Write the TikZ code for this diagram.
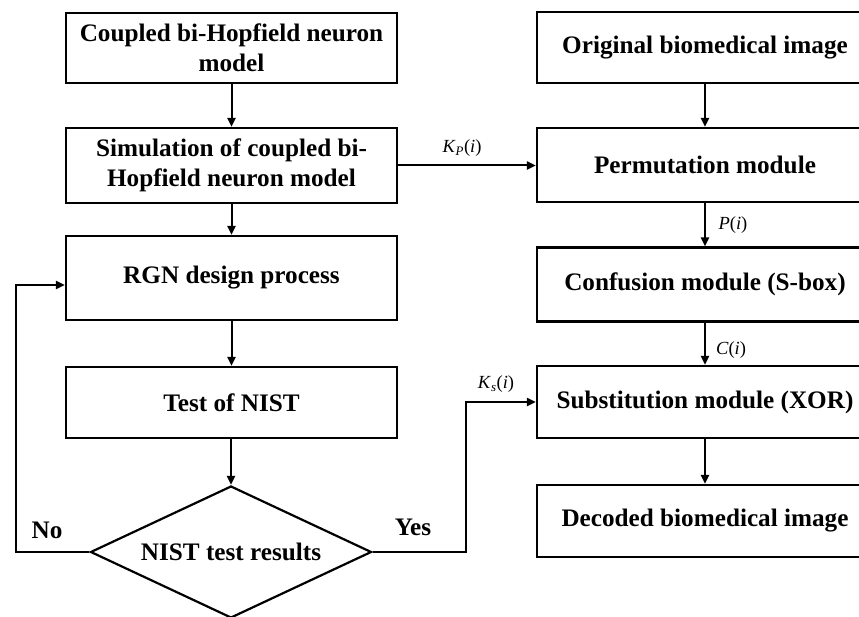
\documentclass[tikz,border=0pt]{standalone}
\usepackage{fontspec}
\setmainfont{Liberation Serif}
\usetikzlibrary{arrows.meta,shapes.geometric}
\begin{document}
\begin{tikzpicture}[x=1pt,y=-1pt,
  box/.style={draw,line width=2.2pt,minimum width=331pt,inner sep=0pt,align=center,
    font=\fontsize{25.2}{29.5}\selectfont\bfseries},
  rbox/.style={box,minimum width=336pt},
  decision/.style={draw,diamond,line width=2.2pt,inner sep=0pt,aspect=2.1,
    minimum width=281pt,minimum height=132pt,font=\fontsize{25.2}{29.5}\selectfont\bfseries},
  flow/.style={-{Triangle[length=9pt,width=8pt]},line width=2pt},
  lbl/.style={inner sep=0pt,font=\fontsize{18.5}{20}\selectfont},
  answer/.style={inner sep=0pt,font=\fontsize{25.2}{29.5}\selectfont\bfseries}
]
\useasboundingbox (0,0) rectangle (859,617);

% left column: chaotic key generation
\node[box,minimum height=70pt] (b1) at (231.5,48) {Coupled bi-Hopfield neuron\\model};
\node[box,minimum height=75pt] (b2) at (231.5,165.5) {Simulation of coupled bi-\\Hopfield neuron model};
\node[box,minimum height=84pt] (b3) at (231.5,278) {RGN design process};
\node[box,minimum height=71pt] (b4) at (231.5,402.5) {Test of NIST};
\node[decision] (dec) at (231,552) {NIST test results};

% right column: image processing chain
\node[rbox,minimum height=71pt] (r1) at (705,47.5) {Original biomedical image};
\node[rbox,minimum height=74pt] (r2) at (705,165) {Permutation module};
\node[rbox,minimum height=74pt] (r3) at (705,284.5) {Confusion module (S-box)};
\node[rbox,minimum height=72pt] (r4) at (705,402) {Substitution module (XOR)};
\node[rbox,minimum height=72pt] (r5) at (705,521) {Decoded biomedical image};

% vertical flow
\draw[flow] (b1) -- (b2);
\draw[flow] (b2) -- (b3);
\draw[flow] (b3) -- (b4);
\draw[flow] (b4.south -| dec.north) -- (dec.north);
\draw[flow] (r1) -- (r2);
\draw[flow] (r2) -- (r3);
\draw[flow] (r3) -- (r4);
\draw[flow] (r4) -- (r5);

% key streams
\draw[flow] (b2.east) -- (b2.east -| r2.west);
\node[lbl] (kp) at (462,148) {\textit{K}\textsubscript{\textit{P}}(\textit{i})};
\node[lbl] (pi) at (733,225) {\textit{P}(\textit{i})};
\node[lbl] (ci) at (731,350) {\textit{C}(\textit{i})};

% decision branches
\coordinate (nocorner) at (16,552);
\coordinate (noup) at (16,285);
\draw[flow] (dec.west) -- (nocorner) -- (noup) -- (noup -| b3.west);
\node[answer] (no) at (47,530) {No};

\coordinate (yescorner) at (466,552);
\draw[flow] (dec.east) -- (yescorner) |- (r4.west);
\node[answer] (yes) at (413,527) {Yes};
\node[lbl] (ks) at (496,384) {\textit{K}\textsubscript{\textit{s}}(\textit{i})};
\end{tikzpicture}
\end{document}
